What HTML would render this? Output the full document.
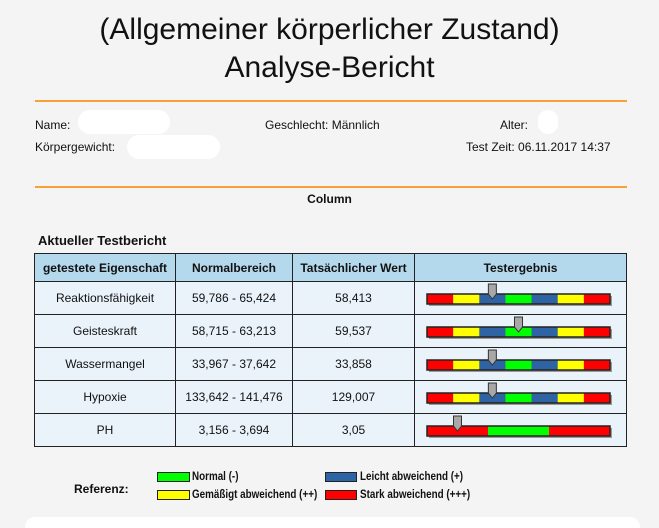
<!DOCTYPE html>
<html style="overflow:hidden;width:659px;height:528px"><head><meta charset="utf-8">
<style>
body{margin:0;width:659px;height:528px;background:#f4f4f4;font-family:"Liberation Sans",sans-serif;color:#111;position:relative;overflow:hidden}
.a{position:absolute;white-space:nowrap}
.t{font-size:30px;width:659px;text-align:center;left:0}
.hr{position:absolute;left:35px;width:592px;height:2px;background:#f7a03c}
.s{font-size:12px}
table{position:absolute;left:34px;top:253px;border-collapse:collapse;font-size:12px}
td,th{border:1px solid #222;text-align:center;padding:0}
th{background:#b5d9ec;height:27px;font-size:12px}
td{background:#eaf3fa;height:32px}
.blur{position:absolute;background:#fff;border-radius:12px}
.lg{font-size:12px;font-weight:bold;transform:scaleX(0.82);transform-origin:left center}
</style></head><body>
<div class="a t" style="top:13px">(Allgemeiner körperlicher Zustand)</div>
<div class="a t" style="top:51px">Analyse-Bericht</div>
<div class="hr" style="top:100px"></div>
<div class="a s" style="left:35px;top:118px">Name:</div>
<div class="blur" style="left:78px;top:110px;width:92px;height:24px"></div>
<div class="a s" style="left:265px;top:118px">Geschlecht: Männlich</div>
<div class="a s" style="left:500px;top:118px">Alter:</div>
<div class="blur" style="left:538px;top:110px;width:20px;height:24px"></div>
<div class="a s" style="left:35px;top:140px">Körpergewicht:</div>
<div class="blur" style="left:127px;top:135px;width:93px;height:24px"></div>
<div class="a s" style="left:466px;top:140px">Test Zeit: 06.11.2017 14:37</div>
<div class="hr" style="top:186px"></div>
<div class="a s" style="left:0;width:659px;text-align:center;top:192px;font-weight:bold">Column</div>
<div class="a" style="left:38px;top:233px;font-size:13px;font-weight:bold">Aktueller Testbericht</div>
<table>
<thead><tr>
<th style="width:140px">getestete Eigenschaft</th>
<th style="width:116px">Normalbereich</th>
<th style="width:121px">Tatsächlicher Wert</th>
<th style="width:211px">Testergebnis</th>
</tr></thead>
<tbody id="tb"></tbody>
</table>
<div class="a" style="left:74px;top:482px;font-size:12px;font-weight:bold">Referenz:</div>
<div class="a" style="left:157px;top:472px;width:31px;height:8px;background:#00ff00;border:1px solid #222"></div>
<div class="a lg" style="left:192px;top:469px">Normal (-)</div>
<div class="a" style="left:157px;top:490px;width:31px;height:8px;background:#ffff00;border:1px solid #222"></div>
<div class="a lg" style="left:192px;top:487px">Gemäßigt abweichend (++)</div>
<div class="a" style="left:325px;top:472px;width:30px;height:8px;background:#2e64a4;border:1px solid #222"></div>
<div class="a lg" style="left:360px;top:469px">Leicht abweichend (+)</div>
<div class="a" style="left:325px;top:490px;width:30px;height:8px;background:#ff0000;border:1px solid #222"></div>
<div class="a lg" style="left:360px;top:487px">Stark abweichend (+++)</div>
<div class="a" style="left:25px;top:517px;width:615px;height:11px;background:#fff;border-radius:10px 10px 0 0"></div>
<script>
const properties=["Reaktionsfähigkeit","Geisteskraft","Wassermangel","Hypoxie","PH"];
const rangeLow=[59.786,58.715,33.967,133.642,3.156];
const rangeHigh=[65.424,63.213,37.642,141.476,3.694];
const rangeLabels=["59,786 - 65,424","58,715 - 63,213","33,967 - 37,642","133,642 - 141,476","3,156 - 3,694"];
const actualValues=[58.413,59.537,33.858,129.007,3.05];
const actualLabels=["58,413","59,537","33,858","129,007","3,05"];
const segmentSets=[7,7,7,7,3];
const C7=["#ff0000","#ffff00","#2e64a4","#00ff00","#2e64a4","#ffff00","#ff0000"];
const C3=["#ff0000","#00ff00","#ff0000"];
const tb=document.getElementById('tb');
const W=183,H=10;
properties.forEach((p,i)=>{
  const tr=document.createElement('tr');
  
  
  [p,rangeLabels[i],actualLabels[i]].forEach((txt,k)=>{
    const td=document.createElement('td');
    
    
    td.textContent=txt;tr.appendChild(td);
  });
  const td=document.createElement('td');
  
  
  const n=segmentSets[i],cols=n===7?C7:C3,mid=(n-1)/2;
  const v=actualValues[i],lo=rangeLow[i],hi=rangeHigh[i];
  let lvl=0;
  if(v<lo)lvl=-1;else if(v>hi)lvl=1;
  const seg=mid+lvl;
  const ns='http://www.w3.org/2000/svg';
  const svg=document.createElementNS(ns,'svg');
  svg.setAttribute('width','211');svg.setAttribute('height','32');
  svg.style.display='block';
  
  
  const x0=12,y0=12;
  const sh=document.createElementNS(ns,'rect');
  sh.setAttribute('x',x0+2);sh.setAttribute('y',y0+2);sh.setAttribute('width',W);sh.setAttribute('height',H);sh.setAttribute('fill','#999');
  
  
  svg.appendChild(sh);
  for(let s=0;s<n;s++){
    const r=document.createElementNS(ns,'rect');
    r.setAttribute('x',x0+W*s/n);r.setAttribute('y',y0);r.setAttribute('width',W/n+0.5);r.setAttribute('height',H);r.setAttribute('fill',cols[s]);
    
    
    svg.appendChild(r);
  }
  const b=document.createElementNS(ns,'rect');
  b.setAttribute('x',x0);b.setAttribute('y',y0);b.setAttribute('width',W);b.setAttribute('height',H);b.setAttribute('fill','none');b.setAttribute('stroke','#222');b.setAttribute('stroke-width','1.5');
  
  
  svg.appendChild(b);
  const mx=x0+W*(seg+0.5)/n;
  const m=document.createElementNS(ns,'polygon');
  m.setAttribute('points',`${mx-4},2 ${mx+4},2 ${mx+4},12 ${mx},17 ${mx-4},12`);
  m.setAttribute('fill','#a8a8a8');m.setAttribute('stroke','#333');m.setAttribute('stroke-width','1');
  
  
  svg.appendChild(m);
  td.appendChild(svg);tr.appendChild(td);tb.appendChild(tr);
});
</script>
</body></html>
